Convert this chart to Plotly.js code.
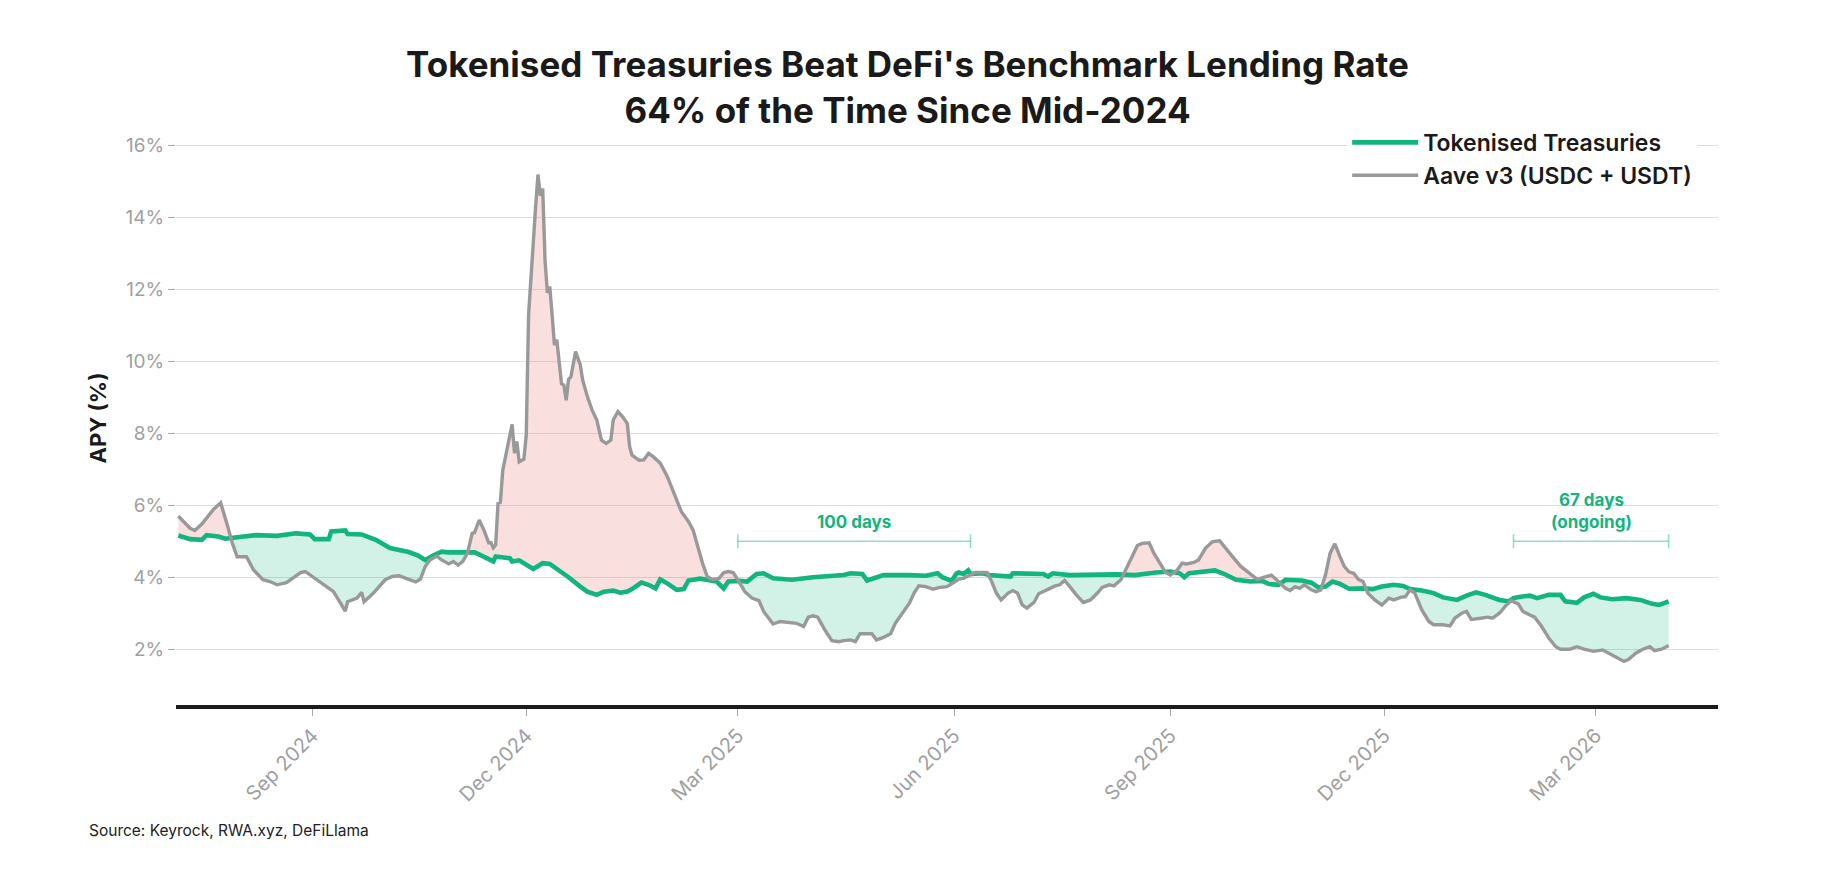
<!DOCTYPE html>
<html>
<head>
<meta charset="utf-8">
<script src="https://cdn.plot.ly/plotly-3.0.1.min.js"></script>
<style>html,body{margin:0;padding:0;background:#fff;}#chart{width:1826px;height:874px;}</style>
</head>
<body>
<div id="chart"></div>
<script>
// ---------------- DATA ----------------
const ttDates = ['2024-07-06','2024-07-11','2024-07-16','2024-07-18','2024-07-23','2024-07-26','2024-07-31','2024-08-08','2024-08-17','2024-08-25','2024-08-31','2024-09-02','2024-09-08','2024-09-09','2024-09-15','2024-09-16','2024-09-22','2024-09-28','2024-10-04','2024-10-09','2024-10-12','2024-10-16','2024-10-19','2024-10-22','2024-10-26','2024-10-29','2024-11-04','2024-11-09','2024-11-12','2024-11-17','2024-11-18','2024-11-24','2024-11-25','2024-11-28','2024-12-04','2024-12-08','2024-12-11','2024-12-15','2024-12-19','2024-12-24','2024-12-27','2024-12-31','2025-01-03','2025-01-07','2025-01-10','2025-01-13','2025-01-15','2025-01-19','2025-01-22','2025-01-25','2025-01-27','2025-01-30','2025-02-03','2025-02-06','2025-02-08','2025-02-13','2025-02-16','2025-02-20','2025-02-23','2025-02-25','2025-03-02','2025-03-05','2025-03-09','2025-03-12','2025-03-16','2025-03-24','2025-04-02','2025-04-15','2025-04-18','2025-04-23','2025-04-25','2025-04-30','2025-05-02','2025-05-13','2025-05-20','2025-05-25','2025-05-27','2025-05-31','2025-06-02','2025-06-03','2025-06-05','2025-06-07','2025-06-08','2025-06-13','2025-06-16','2025-06-25','2025-06-26','2025-07-09','2025-07-11','2025-07-13','2025-07-20','2025-08-09','2025-08-17','2025-08-26','2025-09-01','2025-09-05','2025-09-07','2025-09-09','2025-09-15','2025-09-20','2025-09-24','2025-09-29','2025-10-05','2025-10-10','2025-10-13','2025-10-17','2025-10-20','2025-10-27','2025-10-31','2025-11-03','2025-11-06','2025-11-09','2025-11-12','2025-11-16','2025-11-22','2025-11-26','2025-11-30','2025-12-05','2025-12-09','2025-12-12','2025-12-17','2025-12-22','2025-12-26','2026-01-01','2026-01-05','2026-01-09','2026-01-13','2026-01-19','2026-01-23','2026-01-25','2026-01-28','2026-02-01','2026-02-04','2026-02-09','2026-02-14','2026-02-16','2026-02-21','2026-02-24','2026-02-28','2026-03-03','2026-03-08','2026-03-14','2026-03-20','2026-03-25','2026-03-28','2026-04-01'];
const ttValues = [5.16,5.06,5.04,5.17,5.13,5.07,5.11,5.17,5.15,5.22,5.19,5.06,5.06,5.27,5.30,5.20,5.19,5.04,4.81,4.74,4.70,4.60,4.48,4.59,4.71,4.69,4.69,4.69,4.60,4.44,4.58,4.53,4.44,4.47,4.23,4.39,4.37,4.19,4.00,3.74,3.60,3.51,3.60,3.63,3.57,3.60,3.67,3.85,3.79,3.69,3.94,3.83,3.65,3.67,3.91,3.96,3.93,3.88,3.69,3.88,3.90,3.88,4.09,4.11,3.97,3.93,4.00,4.06,4.11,4.09,3.91,4.02,4.06,4.06,4.04,4.11,4.00,3.90,4.10,4.13,4.09,4.19,4.09,4.11,4.06,4.02,4.11,4.09,4.02,4.11,4.06,4.08,4.06,4.13,4.16,4.11,4.00,4.11,4.16,4.19,4.09,3.93,3.88,3.90,3.81,3.79,3.93,3.91,3.85,3.72,3.74,3.88,3.82,3.68,3.69,3.67,3.74,3.79,3.76,3.67,3.63,3.56,3.44,3.37,3.49,3.58,3.51,3.37,3.33,3.42,3.46,3.49,3.42,3.51,3.51,3.33,3.29,3.44,3.54,3.44,3.39,3.42,3.37,3.26,3.23,3.33];

const aaveDates = ['2024-07-06','2024-07-11','2024-07-13','2024-07-16','2024-07-21','2024-07-24','2024-07-27','2024-07-29','2024-07-31','2024-08-04','2024-08-07','2024-08-11','2024-08-14','2024-08-17','2024-08-21','2024-08-27','2024-08-29','2024-09-03','2024-09-07','2024-09-10','2024-09-13','2024-09-15','2024-09-16','2024-09-20','2024-09-22','2024-09-23','2024-09-27','2024-10-02','2024-10-05','2024-10-08','2024-10-12','2024-10-15','2024-10-17','2024-10-19','2024-10-21','2024-10-24','2024-10-26','2024-10-29','2024-10-31','2024-11-02','2024-11-04','2024-11-06','2024-11-08','2024-11-09','2024-11-11','2024-11-13','2024-11-15','2024-11-16','2024-11-17','2024-11-18','2024-11-19','2024-11-20','2024-11-21','2024-11-23','2024-11-24','2024-11-25','2024-11-26','2024-11-27','2024-11-28','2024-11-30','2024-12-01','2024-12-02','2024-12-03','2024-12-04','2024-12-05','2024-12-06','2024-12-07','2024-12-08','2024-12-09','2024-12-10','2024-12-11','2024-12-12','2024-12-13','2024-12-14','2024-12-15','2024-12-16','2024-12-17','2024-12-18','2024-12-19','2024-12-20','2024-12-22','2024-12-24','2024-12-25','2024-12-27','2024-12-29','2024-12-31','2025-01-02','2025-01-04','2025-01-06','2025-01-07','2025-01-09','2025-01-11','2025-01-13','2025-01-14','2025-01-15','2025-01-18','2025-01-20','2025-01-22','2025-01-24','2025-01-27','2025-01-30','2025-02-02','2025-02-05','2025-02-08','2025-02-10','2025-02-12','2025-02-14','2025-02-16','2025-02-18','2025-02-21','2025-02-23','2025-02-25','2025-02-27','2025-03-01','2025-03-04','2025-03-07','2025-03-10','2025-03-12','2025-03-16','2025-03-19','2025-03-23','2025-03-26','2025-03-29','2025-03-31','2025-04-02','2025-04-04','2025-04-07','2025-04-10','2025-04-13','2025-04-15','2025-04-18','2025-04-20','2025-04-22','2025-04-25','2025-04-27','2025-04-29','2025-05-02','2025-05-05','2025-05-07','2025-05-10','2025-05-13','2025-05-15','2025-05-17','2025-05-20','2025-05-23','2025-05-26','2025-05-29','2025-06-01','2025-06-03','2025-06-05','2025-06-08','2025-06-10','2025-06-15','2025-06-17','2025-06-19','2025-06-21','2025-06-24','2025-06-26','2025-06-28','2025-06-30','2025-07-02','2025-07-05','2025-07-07','2025-07-11','2025-07-14','2025-07-16','2025-07-18','2025-07-20','2025-07-23','2025-07-26','2025-07-29','2025-08-01','2025-08-03','2025-08-06','2025-08-08','2025-08-11','2025-08-13','2025-08-16','2025-08-18','2025-08-20','2025-08-23','2025-08-25','2025-08-28','2025-08-30','2025-09-01','2025-09-04','2025-09-06','2025-09-08','2025-09-11','2025-09-13','2025-09-16','2025-09-19','2025-09-22','2025-09-25','2025-09-28','2025-10-01','2025-10-05','2025-10-08','2025-10-11','2025-10-14','2025-10-17','2025-10-20','2025-10-22','2025-10-24','2025-10-26','2025-10-28','2025-10-31','2025-11-02','2025-11-04','2025-11-06','2025-11-08','2025-11-10','2025-11-12','2025-11-14','2025-11-16','2025-11-18','2025-11-20','2025-11-22','2025-11-24','2025-11-27','2025-11-30','2025-12-03','2025-12-05','2025-12-08','2025-12-10','2025-12-12','2025-12-14','2025-12-17','2025-12-20','2025-12-22','2025-12-26','2025-12-29','2025-12-31','2026-01-03','2026-01-05','2026-01-07','2026-01-11','2026-01-14','2026-01-16','2026-01-19','2026-01-22','2026-01-24','2026-01-27','2026-01-29','2026-02-01','2026-02-03','2026-02-06','2026-02-09','2026-02-12','2026-02-14','2026-02-18','2026-02-21','2026-02-24','2026-02-28','2026-03-04','2026-03-07','2026-03-10','2026-03-13','2026-03-15','2026-03-18','2026-03-21','2026-03-24','2026-03-26','2026-03-29','2026-04-01'];
const aaveValues = [5.70,5.36,5.30,5.48,5.89,6.07,5.41,4.94,4.57,4.57,4.20,3.93,3.88,3.79,3.85,4.13,4.16,3.93,3.74,3.60,3.28,3.06,3.32,3.42,3.58,3.32,3.56,3.93,4.02,4.04,3.94,3.87,3.95,4.30,4.48,4.59,4.48,4.37,4.44,4.34,4.44,4.67,5.22,5.24,5.59,5.31,4.96,4.96,4.82,4.90,6.05,6.08,6.97,7.60,7.90,8.25,7.45,7.77,7.21,7.28,7.95,11.30,12.30,13.40,14.30,15.19,14.60,14.80,12.80,11.90,12.08,11.30,10.45,10.60,10.00,9.38,9.34,8.92,9.50,9.57,10.27,9.90,9.48,9.02,8.65,8.37,7.81,7.72,7.81,8.37,8.60,8.46,8.27,7.62,7.39,7.25,7.26,7.44,7.35,7.17,6.80,6.33,5.82,5.55,5.31,4.85,4.39,4.02,3.94,3.97,4.13,4.16,4.13,3.93,3.60,3.42,3.35,3.05,2.70,2.77,2.74,2.72,2.63,2.89,2.93,2.89,2.54,2.24,2.21,2.24,2.26,2.21,2.43,2.44,2.43,2.26,2.33,2.43,2.72,3.00,3.28,3.56,3.76,3.74,3.67,3.72,3.74,3.86,3.95,3.97,4.06,4.13,4.13,3.88,3.56,3.37,3.56,3.63,3.56,3.23,3.14,3.30,3.54,3.67,3.76,3.79,3.91,3.76,3.51,3.30,3.37,3.56,3.72,3.79,3.76,3.93,4.20,4.57,4.88,4.94,4.96,4.67,4.34,4.13,4.06,4.20,4.39,4.37,4.41,4.48,4.81,4.99,5.01,4.76,4.53,4.30,4.11,3.94,4.00,4.06,3.88,3.69,3.63,3.74,3.69,3.79,3.65,3.60,3.65,4.06,4.67,4.93,4.60,4.30,4.15,4.11,3.94,3.88,3.56,3.37,3.23,3.42,3.37,3.44,3.46,3.65,3.56,3.09,2.77,2.68,2.68,2.65,2.86,3.00,3.05,2.83,2.86,2.89,2.86,3.00,3.23,3.35,3.26,3.05,2.95,2.89,2.63,2.31,2.07,2.00,2.00,2.07,2.00,1.94,1.98,1.87,1.78,1.66,1.72,1.89,2.00,2.07,1.96,2.00,2.10];

const seriesNames = ['Tokenised Treasuries', 'Aave v3 (USDC + USDT)'];
const yTickVals = [2, 4, 6, 8, 10, 12, 14, 16];
const yTickText = ['2%', '4%', '6%', '8%', '10%', '12%', '14%', '16%'];
const xTickVals = ['2024-09-01', '2024-12-01', '2025-03-01', '2025-06-01', '2025-09-01', '2025-12-01', '2026-03-01'];
const xTickText = ['Sep 2024', 'Dec 2024', 'Mar 2025', 'Jun 2025', 'Sep 2025', 'Dec 2025', 'Mar 2026'];
const streakStarts = ['2025-03-01', '2026-01-25'];
const streakEnds = ['2025-06-08', '2026-04-01'];
const streakLabels = ['100 days', '67 days<br>(ongoing)'];
const titleText = "Tokenised Treasuries Beat DeFi's Benchmark Lending Rate<br>64% of the Time Since Mid-2024";
const sourceText = 'Source: Keyrock, RWA.xyz, DeFiLlama';

// ---------------- FILL GEOMETRY (between the two lines) ----------------
const GREEN = '#12b57d', GREY = '#999999';
function ms(s) { return Date.parse(s + 'T00:00:00Z'); }
function fmt(t) { const d = new Date(t); return d.toISOString().replace('T', ' ').slice(0, 19); }
function interp(ts, vs, t) {
  if (t <= ts[0]) return vs[0];
  if (t >= ts[ts.length - 1]) return vs[vs.length - 1];
  let i = 1; while (ts[i] < t) i++;
  const f = (t - ts[i - 1]) / (ts[i] - ts[i - 1]);
  return vs[i - 1] + f * (vs[i] - vs[i - 1]);
}
const tT = ttDates.map(ms), tA = aaveDates.map(ms);
const grid = Array.from(new Set(tT.concat(tA))).sort((a, b) => a - b);
const base = grid.map(t => ({ t: t, a: interp(tA, aaveValues, t), b: interp(tT, ttValues, t) }));
const pts = [];
for (let i = 0; i < base.length; i++) {
  pts.push(base[i]);
  if (i < base.length - 1) {
    const d0 = base[i].a - base[i].b, d1 = base[i + 1].a - base[i + 1].b;
    if (d0 * d1 < 0) {
      const f = d0 / (d0 - d1);
      const t = base[i].t + f * (base[i + 1].t - base[i].t);
      const v = base[i].a + f * (base[i + 1].a - base[i].a);
      pts.push({ t: t, a: v, b: v });
    }
  }
}
const fx = pts.map(p => fmt(p.t));
const fA = pts.map(p => p.a), fB = pts.map(p => p.b), fMax = pts.map(p => Math.max(p.a, p.b));
const hidden = { mode: 'lines', line: { width: 0 }, showlegend: false, hoverinfo: 'skip' };

const traces = [
  Object.assign({ x: fx, y: fB }, hidden),
  Object.assign({ x: fx, y: fMax, fill: 'tonexty', fillcolor: 'rgba(232,110,110,0.22)' }, hidden),
  Object.assign({ x: fx, y: fA }, hidden),
  Object.assign({ x: fx, y: fMax, fill: 'tonexty', fillcolor: 'rgba(18,181,125,0.19)' }, hidden),
  { x: ttDates, y: ttValues, name: seriesNames[0], mode: 'lines',
    line: { color: GREEN, width: 4.6 } },
  { x: aaveDates, y: aaveValues, name: seriesNames[1], mode: 'lines',
    line: { color: GREY, width: 3.4 } }
];

// ---------------- ANNOTATIONS ----------------
const bracketY = 5;
const shapes = [], annotations = [];
for (let i = 0; i < streakStarts.length; i++) {
  const bc = 'rgba(18,181,125,0.45)';
  shapes.push({ type: 'line', xref: 'x', yref: 'y', x0: streakStarts[i], x1: streakEnds[i], y0: bracketY, y1: bracketY, line: { color: bc, width: 1.6 } });
  [streakStarts[i], streakEnds[i]].forEach(xd => shapes.push({ type: 'line', xref: 'x', yref: 'y', x0: xd, x1: xd, ysizemode: 'pixel', yanchor: bracketY, y0: -7, y1: 7, line: { color: bc, width: 1.6 } }));
  const mid = fmt((ms(streakStarts[i]) + ms(streakEnds[i])) / 2);
  annotations.push({ x: mid, y: bracketY, xref: 'x', yref: 'y', text: streakLabels[i], showarrow: false, yanchor: 'bottom', yshift: 7,
    font: { family: 'Inter, sans-serif', size: 17, color: GREEN, weight: 'bold' } });
}
annotations.push({ xref: 'paper', yref: 'paper', x: -0.0574, y: -0.2195, xanchor: 'left', yanchor: 'middle', showarrow: false,
  text: sourceText, font: { family: 'Inter, sans-serif', size: 15.5, color: '#222' } });

const layout = {
  width: 1826, height: 874,
  margin: { l: 176, r: 108, t: 131, b: 169, pad: 0 },
  paper_bgcolor: '#fff', plot_bgcolor: '#fff',
  font: { family: 'Inter, sans-serif', color: '#222' },
  title: { text: titleText, xref: 'container', yref: 'container', x: 0.497, xanchor: 'center', y: 1 - 77 / 874, yanchor: 'middle',
    font: { family: 'Inter, sans-serif', size: 35, color: '#1a1a1a', weight: 'bold' } },
  xaxis: { type: 'date', range: ['2024-07-05', '2026-04-22'], showgrid: false, zeroline: false,
    showline: true, linecolor: '#1c1c1c', linewidth: 4,
    ticks: 'outside', ticklen: 7, tickwidth: 1, tickcolor: '#aaa',
    tickvals: xTickVals, ticktext: xTickText, tickangle: -45,
    tickfont: { family: 'Inter, sans-serif', size: 20, color: '#a0a0a0' } },
  yaxis: { range: [0.45, 16.4], tickvals: yTickVals, ticktext: yTickText, showgrid: true, gridcolor: '#dddddd', gridwidth: 1,
    zeroline: false, showline: false, ticks: 'outside', ticklen: 7, tickwidth: 1, tickcolor: '#aaa',
    tickfont: { family: 'Inter, sans-serif', size: 19, color: '#a0a0a0' },
    title: { text: 'APY (%)', standoff: 12, font: { family: 'Inter, sans-serif', size: 22, color: '#1a1a1a', weight: 'bold' } } },
  legend: { x: 0.7595, xanchor: 'left', y: 1.0175, yanchor: 'top', bgcolor: '#fff', borderwidth: 0,
    traceorder: 'normal',
    font: { family: 'Inter, sans-serif', size: 23, color: '#1a1a1a', weight: 600 }, itemwidth: 66 },
  shapes: shapes,
  annotations: annotations,
  showlegend: true
};

Plotly.newPlot('chart', traces, layout, { staticPlot: true, displayModeBar: false });
</script>
</body>
</html>
